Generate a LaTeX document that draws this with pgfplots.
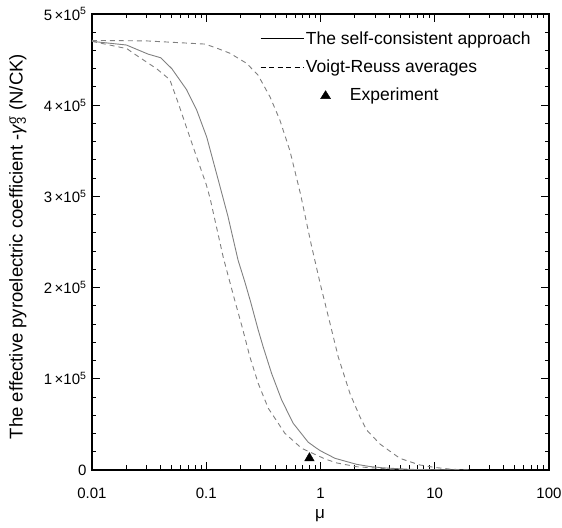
\documentclass[border=0pt]{standalone}
\usepackage{fontspec}
\setmainfont{Liberation Sans}
\usepackage{pgfplots}
\pgfplotsset{compat=1.18}

\definecolor{curve}{gray}{0.5}

\begin{document}
\begin{tikzpicture}
    \begin{axis}[
        xmode = log,
        scale only axis,
        width = 457pt,
        height = 456pt,
        xmin = 0.01, xmax = 100,
        ymin = 0, ymax = 500000,
        xtick = {0.01, 0.1, 1, 10, 100},
        xticklabels = {0.01, 0.1, 1, 10, 100},
        ytick = {0, 100000, 200000, 300000, 400000, 500000},
        yticklabels = {0, 1\,×10\textsuperscript{5}, 2\,×10\textsuperscript{5},
            3\,×10\textsuperscript{5}, 4\,×10\textsuperscript{5}, 5\,×10\textsuperscript{5}},
        minor y tick num = 4,
        scaled y ticks = false,
        tick align = inside,
        major tick length = 8pt,
        minor tick length = 4.5pt,
        axis line style = {line width=1.1pt},
        every tick/.style = {black, line width=1pt},
        tick label style = {font=\fontsize{15}{18}\selectfont},
        xticklabel style = {yshift=-15pt},
        yticklabel style = {xshift=-2pt},
        xlabel = {μ},
        ylabel = {The effective pyroelectric coefficient -\textit{γ}\rlap{\textsubscript{3}}\textsuperscript{σ} (N/CK)},
        xlabel style = {at={(axis description cs:0.499,-0.1)}, anchor=center,
            font=\fontsize{17}{20}\selectfont},
        ylabel style = {at={(axis description cs:-0.162,0.49)}, anchor=center,
            font=\fontsize{18.5}{22}\selectfont},
        legend cell align = left,
        legend style = {at={(axis description cs:0.3676,0.966)}, anchor=north west,
            draw=none, fill=none, inner sep=0pt, row sep=10pt,
            font=\fontsize{17.5}{21}\selectfont},
    ]
        % legend glyphs (black, unlike the grey curves)
        \addlegendimage{legend image code/.code={
            \draw[black, line width=0.8pt] (0pt,0pt) -- (43pt,0pt);}}
        \addlegendentry{The self-consistent approach}
        \addlegendimage{legend image code/.code={
            \draw[black, line width=0.8pt, dash pattern=on 5pt off 3.5pt] (0pt,0pt) -- (43pt,0pt);}}
        \addlegendentry{Voigt-Reuss averages}
        \addlegendimage{legend image code/.code={
            \fill[black, overlay] (60pt,-3.5pt) -- (70pt,-3.5pt) -- (65pt,4.5pt) -- cycle;}}
        \addlegendentry{\hspace{44pt}Experiment}

        % self-consistent approach
        \addplot[curve, line width=0.9pt, forget plot] coordinates {
            (0.01, 470000) (0.020, 466000) (0.031, 456000) (0.040, 452000)
            (0.050, 440000) (0.0673, 417000) (0.0823, 395000) (0.101, 365000)
            (0.1274, 318000) (0.155, 278000) (0.19, 230000) (0.218, 206000)
            (0.245, 184000) (0.285, 153500) (0.315, 135000) (0.373, 106000)
            (0.457, 76800) (0.577, 51200) (0.78, 30500) (0.925, 23800)
            (1.0, 21000) (1.34, 12800) (2.07, 6200) (2.7, 3800) (3.5, 2400)
            (6, 700) (10, 100) (20, 0)
        };
        % Voigt-Reuss lower
        \addplot[curve, line width=0.9pt, dash pattern=on 5pt off 4pt, forget plot] coordinates {
            (0.01, 470000) (0.0202, 462000) (0.023, 457000) (0.0368, 440000)
            (0.048, 428000) (0.057, 402000) (0.067, 376000) (0.082, 344000)
            (0.1, 313000) (0.108, 298000) (0.141, 233000) (0.175, 189000)
            (0.208, 155000) (0.241, 124000) (0.285, 95000) (0.349, 67700)
            (0.488, 40200) (0.684, 23800) (1.1, 12000) (1.38, 7800)
            (2.07, 3600) (4, 1000) (8, 100) (15, 0)
        };
        % Voigt-Reuss upper
        \addplot[curve, line width=0.9pt, dash pattern=on 5pt off 4pt, forget plot] coordinates {
            (0.01, 471000) (0.03, 470500) (0.098, 467000) (0.127, 462000)
            (0.161, 457000) (0.225, 446000) (0.284, 433000) (0.362, 409000)
            (0.44, 384000) (0.54, 350000) (0.67, 302000) (0.83, 247000)
            (1.0, 203000) (1.21, 161000) (1.43, 124000) (1.81, 84000)
            (2.21, 58500) (2.53, 44000) (3.31, 28500) (4.95, 12800)
            (7.4, 5500) (10, 2800) (14, 800) (20, 0)
        };
        % experiment
        \addplot[only marks, mark=triangle*, mark size=5.5pt, black, forget plot] coordinates {
            (0.8, 13000)
        };
    \end{axis}
    \pgfresetboundingbox
    \path[use as bounding box] ([shift={(-92pt,-58pt)}]current axis.south west)
        rectangle ([shift={(13pt,14pt)}]current axis.north east);
\end{tikzpicture}
\end{document}
